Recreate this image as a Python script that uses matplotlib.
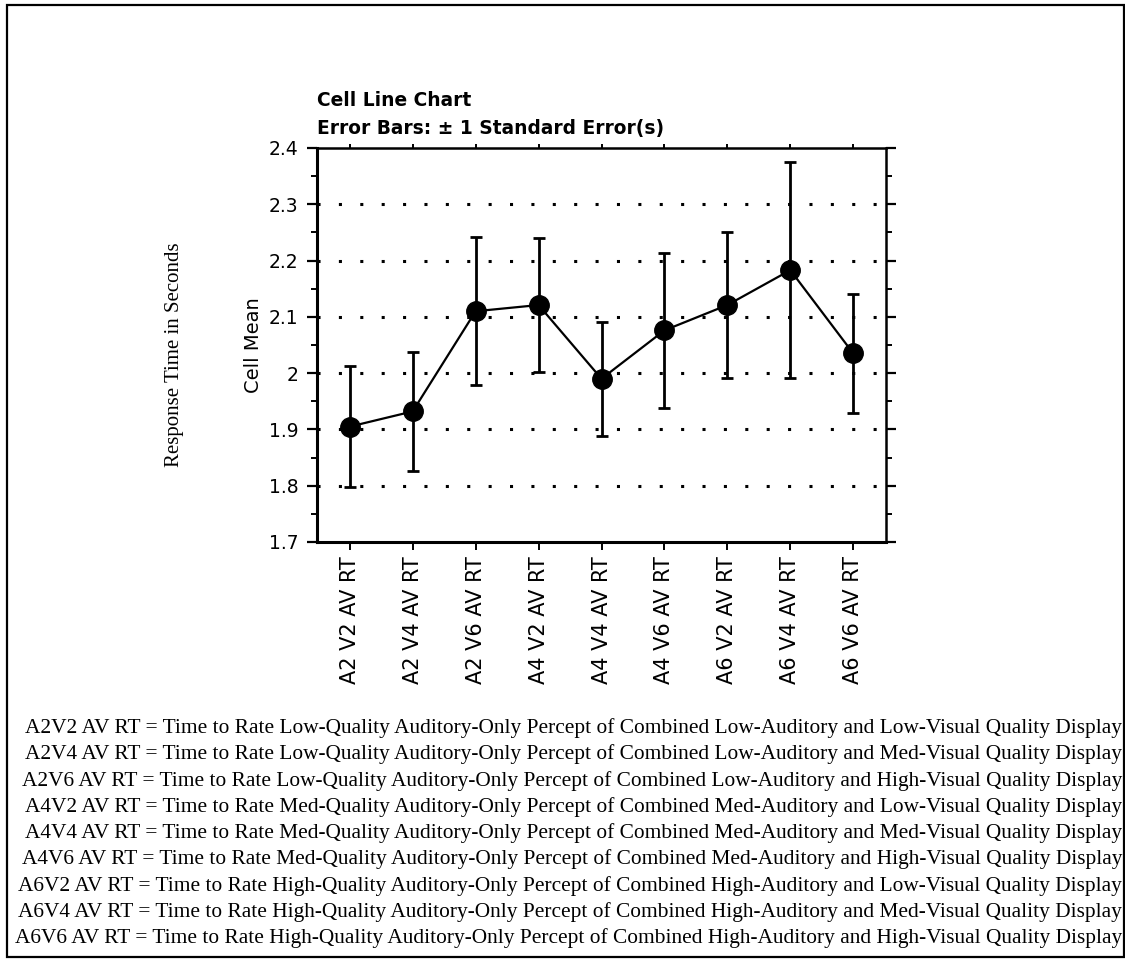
import numpy as np
import matplotlib
matplotlib.use("Agg")
import matplotlib.pyplot as plt
from matplotlib.patches import Rectangle
from matplotlib.ticker import MultipleLocator

# Cell means and standard errors
cells = ["A2 V2 AV RT", "A2 V4 AV RT", "A2 V6 AV RT",
         "A4 V2 AV RT", "A4 V4 AV RT", "A4 V6 AV RT",
         "A6 V2 AV RT", "A6 V4 AV RT", "A6 V6 AV RT"]
cell_means = [1.905, 1.932, 2.110, 2.121, 1.990, 2.076, 2.121, 2.183, 2.035]
std_errors = [0.107, 0.105, 0.131, 0.119, 0.101, 0.138, 0.129, 0.192, 0.106]

y_ticks = [1.7, 1.8, 1.9, 2.0, 2.1, 2.2, 2.3, 2.4]
y_tick_labels = ["1.7", "1.8", "1.9", "2", "2.1", "2.2", "2.3", "2.4"]
grid_levels = [1.8, 1.9, 2.0, 2.1, 2.2, 2.3]

legend_lines = [
    "A2V2 AV RT = Time to Rate Low-Quality Auditory-Only Percept of Combined Low-Auditory and Low-Visual Quality Display",
    "A2V4 AV RT = Time to Rate Low-Quality Auditory-Only Percept of Combined Low-Auditory and Med-Visual Quality Display",
    "A2V6 AV RT = Time to Rate Low-Quality Auditory-Only Percept of Combined Low-Auditory and High-Visual Quality Display",
    "A4V2 AV RT = Time to Rate Med-Quality Auditory-Only Percept of Combined Med-Auditory and Low-Visual Quality Display",
    "A4V4 AV RT = Time to Rate Med-Quality Auditory-Only Percept of Combined Med-Auditory and Med-Visual Quality Display",
    "A4V6 AV RT = Time to Rate Med-Quality Auditory-Only Percept of Combined Med-Auditory and High-Visual Quality Display",
    "A6V2 AV RT = Time to Rate High-Quality Auditory-Only Percept of Combined High-Auditory and Low-Visual Quality Display",
    "A6V4 AV RT = Time to Rate High-Quality Auditory-Only Percept of Combined High-Auditory and Med-Visual Quality Display",
    "A6V6 AV RT = Time to Rate High-Quality Auditory-Only Percept of Combined High-Auditory and High-Visual Quality Display",
]

W, H = 1125, 961
sans = "DejaVu Sans"
serif = "Liberation Serif"

fig = plt.figure(figsize=(W / 100, H / 100), dpi=100)

# axes box in pixel terms: left 317, right 886, top 148, bottom 542
ax = fig.add_axes([317 / W, 1 - 542 / H, (886 - 317) / W, (542 - 148) / H])

x = np.arange(len(cells))
ax.errorbar(x, cell_means, yerr=std_errors, color="black", lw=1.6,
            marker="o", ms=14, mfc="black", mec="black",
            ecolor="black", elinewidth=2.0, capsize=4, capthick=2.0, zorder=3)

ax.set_xlim(-0.52, len(cells) - 0.48)
ax.set_ylim(1.7, 2.4)
ax.yaxis.set_minor_locator(MultipleLocator(0.05))
ax.set_yticks(y_ticks)
ax.set_yticklabels(y_tick_labels, fontfamily=sans, fontsize=13.5)
ax.set_xticks(x)
ax.set_xticklabels(cells, rotation=90, fontfamily=sans, fontsize=15)

ax.tick_params(axis="y", which="major", direction="out", length=7.5, width=1.6,
               pad=6, right=True)
ax.tick_params(axis="y", which="minor", direction="out", length=4, width=1.4,
               right=True)
ax.tick_params(axis="x", which="major", direction="out", length=6, width=1.4,
               pad=4)

# short ticks on the top edge
top = ax.secondary_xaxis("top")
top.set_xticks(x)
top.set_xticklabels([])
top.tick_params(direction="out", length=3, width=1.4)
top.spines["top"].set_visible(False)

for side in ["left", "bottom"]:
    ax.spines[side].set_linewidth(2.2)
for side in ["top", "right"]:
    ax.spines[side].set_linewidth(1.8)

# dotted reference lines
for yv in grid_levels:
    ax.axhline(yv, color="black", lw=2.2, ls=(0, (1, 6)), zorder=1)

ax.set_ylabel("Cell Mean", fontfamily=sans, fontsize=14, labelpad=4)

fig.text(317 / W, 1 - 100 / H, "Cell Line Chart", fontfamily=sans,
         fontweight="bold", fontsize=13.4, ha="left", va="center")
fig.text(317 / W, 1 - 128 / H, "Error Bars: \u00b1 1 Standard Error(s)",
         fontfamily=sans, fontweight="bold", fontsize=13.4, ha="left", va="center")

fig.text(175 / W, 1 - 355 / H, "Response Time in Seconds", fontfamily=serif,
         fontsize=15, rotation=90, ha="center", va="center")

for i, line in enumerate(legend_lines):
    fig.text(1122 / W, 1 - (728 + 26.3 * i) / H, line, fontfamily=serif,
             fontsize=15.4, ha="right", va="center")

# scanned page border
fig.patches.append(Rectangle((7 / W, 1 - 957 / H), (1124 - 7) / W, (957 - 5) / H,
                             transform=fig.transFigure, fill=False,
                             edgecolor="black", lw=1.6))

fig.savefig("out.png", dpi=100)
